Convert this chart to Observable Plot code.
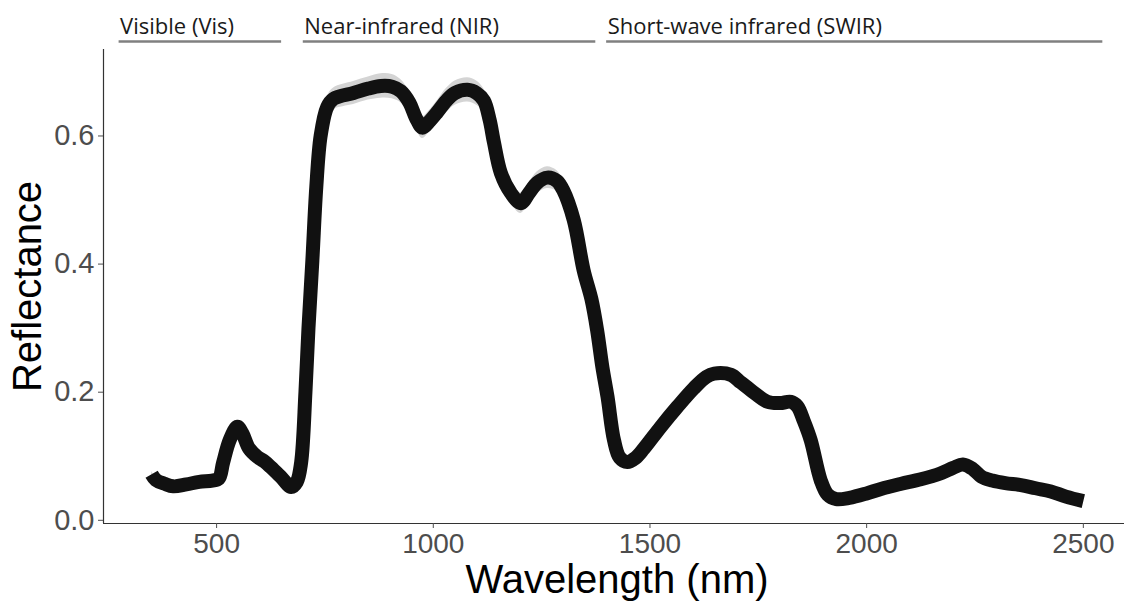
<!DOCTYPE html>
<html>
<head>
<meta charset="utf-8">
<script src="https://cdn.jsdelivr.net/npm/d3@7"></script>
<script src="https://cdn.jsdelivr.net/npm/@observablehq/plot@0.6"></script>
<style>
  html, body { margin: 0; padding: 0; background: #fff; }
  #chart svg { display: block; }
</style>
</head>
<body>
<div id="chart"></div>
<script>
// ---- data ----
const wavelength = [350, 360, 380, 400, 430, 460, 490, 505, 515, 530, 548, 560, 575, 594, 610, 625, 648, 672, 685, 695,
  705, 712, 721, 730, 740, 755, 770, 816, 850, 879, 905, 925, 945, 960, 975, 990, 1009, 1030, 1050, 1079,
  1100, 1117, 1130, 1140, 1156, 1179, 1202, 1220, 1240, 1263, 1285, 1300, 1324, 1347, 1365, 1378, 1390, 1402, 1417, 1430,
  1448, 1466, 1486, 1525, 1563, 1601, 1630, 1648, 1687, 1710, 1733, 1771, 1800, 1825, 1840, 1855, 1871, 1894, 1910, 1930,
  1960, 2000, 2033, 2080, 2125, 2170, 2200, 2222, 2245, 2265, 2290, 2320, 2356, 2390, 2425, 2460, 2500];
const reflectance = [0.072, 0.063, 0.057, 0.053, 0.056, 0.060, 0.062, 0.065, 0.090, 0.125, 0.146, 0.135, 0.112, 0.099, 0.092, 0.083, 0.068, 0.052, 0.060, 0.090,
  0.200, 0.300, 0.406, 0.520, 0.600, 0.645, 0.658, 0.667, 0.674, 0.678, 0.677, 0.670, 0.652, 0.628, 0.613, 0.622, 0.637, 0.655, 0.667, 0.672,
  0.667, 0.655, 0.625, 0.590, 0.542, 0.511, 0.495, 0.510, 0.527, 0.535, 0.530, 0.515, 0.469, 0.390, 0.345, 0.297, 0.240, 0.193, 0.125, 0.098,
  0.091, 0.097, 0.112, 0.146, 0.177, 0.206, 0.224, 0.229, 0.227, 0.215, 0.203, 0.185, 0.183, 0.185, 0.178, 0.155, 0.125, 0.0625, 0.040, 0.033,
  0.035, 0.042, 0.049, 0.057, 0.064, 0.073, 0.082, 0.087, 0.080, 0.068, 0.062, 0.058, 0.055, 0.050, 0.045, 0.037, 0.030];
const spread = [0.004, 0.004, 0.004, 0.004, 0.004, 0.004, 0.004, 0.004, 0.004, 0.004, 0.005, 0.005, 0.004, 0.004, 0.004, 0.004, 0.004, 0.004, 0.004, 0.004,
  0.005, 0.006, 0.008, 0.010, 0.013, 0.016, 0.017, 0.018, 0.018, 0.019, 0.019, 0.018, 0.017, 0.017, 0.017, 0.017, 0.018, 0.019, 0.019, 0.019,
  0.019, 0.018, 0.016, 0.015, 0.015, 0.016, 0.016, 0.016, 0.017, 0.017, 0.016, 0.014, 0.011, 0.008, 0.007, 0.006, 0.005, 0.005, 0.004, 0.004,
  0.004, 0.004, 0.004, 0.005, 0.006, 0.007, 0.008, 0.008, 0.008, 0.007, 0.006, 0.006, 0.006, 0.006, 0.005, 0.004, 0.004, 0.004, 0.003, 0.003,
  0.003, 0.003, 0.003, 0.003, 0.003, 0.003, 0.003, 0.003, 0.003, 0.003, 0.003, 0.003, 0.003, 0.003, 0.003, 0.003, 0.003];

const bandLabels = ["Visible (Vis)", "Near-infrared (NIR)", "Short-wave infrared (SWIR)"];
const bandStart = [275, 700, 1400];
const bandEnd = [650, 1375, 2545];
const bandLevel = 0.7475;

const xDomain = [239, 2595];
const yDomain = [-0.005, 0.735];
const xTicks = [500, 1000, 1500, 2000, 2500];
const yTicks = [0, 0.2, 0.4, 0.6];
const xTitle = "Wavelength (nm)";
const yTitle = "Reflectance";

// ---- build ----
const data = wavelength.map((w, i) => ({
  w, r: reflectance[i], lo: reflectance[i] - spread[i], hi: reflectance[i] + spread[i]
}));
const bands = bandLabels.map((label, i) => ({label, start: bandStart[i], end: bandEnd[i]}));

const chart = Plot.plot({
  width: 1124,
  height: 601,
  marginLeft: 103,
  marginRight: 0,
  marginTop: 49,
  marginBottom: 78,
  style: {fontFamily: "'Liberation Sans', Arial, sans-serif", background: "#fff", overflow: "visible"},
  x: {domain: xDomain},
  y: {domain: yDomain},
  marks: [
    Plot.areaY(data, {x: "w", y1: "lo", y2: "hi", fill: "#d4d4d4", curve: "catmull-rom"}),
    Plot.line(data, {x: "w", y: "r", stroke: "#111111", strokeWidth: 14, curve: "catmull-rom",
      strokeLinecap: "butt", strokeLinejoin: "round"}),
    Plot.ruleY([yDomain[0]], {stroke: "#333333", strokeWidth: 1.2}),
    Plot.ruleX([xDomain[0]], {stroke: "#333333", strokeWidth: 1.2}),
    Plot.axisX({ticks: xTicks, tickSize: 5, tickPadding: 5, fontSize: 28, color: "#4d4d4d", label: null, tickFormat: d3.format("d")}),
    Plot.axisY({ticks: yTicks, tickSize: 5, tickPadding: 4, fontSize: 29, color: "#4d4d4d", label: null, tickFormat: d3.format(".1f")}),
    Plot.text([xTitle], {frameAnchor: "bottom", lineAnchor: "middle", textAnchor: "middle", dy: 57, dx: 3, fontSize: 40, fill: "#000"}),
    Plot.text([yTitle], {frameAnchor: "left", lineAnchor: "middle", textAnchor: "middle", rotate: -90, dx: -75, fontSize: 40, fill: "#000"}),
    Plot.ruleY(bands, {x1: "start", x2: "end", y: () => bandLevel, stroke: "#808080", strokeWidth: 2.5}),
    Plot.text(bands, {x: "start", y: () => bandLevel, text: "label", textAnchor: "start", dx: 1, dy: -15,
      fontSize: 22, fontFamily: "'Open Sans', sans-serif", fill: "#1a1a1a"})
  ]
});
document.getElementById("chart").appendChild(chart);
</script>
</body>
</html>
